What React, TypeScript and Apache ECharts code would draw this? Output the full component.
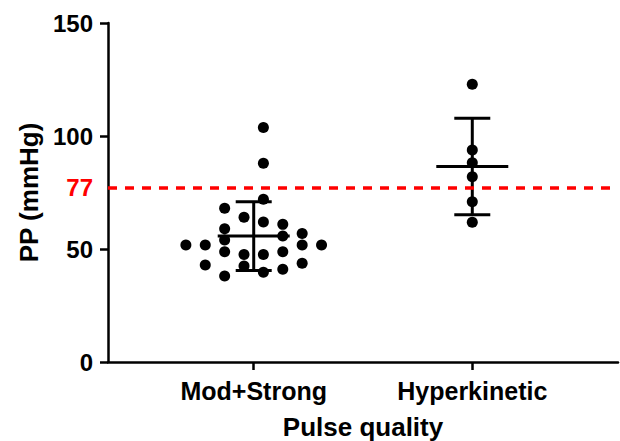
import React, { useEffect, useRef } from "react";
import * as echarts from "echarts";

const categories = ["Mod+Strong", "Hyperkinetic"];
const categoryPositions = [2, 5];
const yTicks = [0, 50, 100, 150];
const threshold = 77;

// Mod+Strong group: PP values (mmHg) and jitter column (in dot widths from center)
const modStrongPP = [103.8, 87.9, 72.0, 68.0, 64.0, 61.9, 60.9, 59.0, 56.9, 55.8, 54.0, 51.8, 51.8, 51.8, 51.8, 48.8, 47.6, 47.6, 48.8, 42.9, 42.5, 43.7, 41.0, 39.7, 38.1];
const modStrongColumn = [0.5, 0.5, 0.5, -1.5, -0.5, 0.5, 1.5, -1.5, 2.5, 1.5, -1.5, -3.5, -2.5, 2.5, 3.5, -1.5, -0.5, 0.5, 1.5, -2.5, -0.5, 2.5, 1.5, 0.5, -1.5];

// Hyperkinetic group
const hyperPP = [122.9, 93.8, 88.2, 82.0, 70.9, 61.8];
const hyperColumn = [0, 0, 0, 0, 0, 0];

// Mean ± SD per group
const groupMean = [55.7, 86.5];
const groupSD = [15.2, 21.3];

const FONT = "Arial, 'Liberation Sans', sans-serif";
const COLUMN_STEP = 0.266;

export default function App() {
  const ref = useRef<HTMLDivElement>(null);
  useEffect(() => {
    document.body.style.margin = "0";
    const chart = echarts.init(ref.current!, null, { renderer: "svg" });
    const dots: number[][] = [];
    modStrongPP.forEach((v, i) => dots.push([categoryPositions[0] + modStrongColumn[i] * COLUMN_STEP, v]));
    hyperPP.forEach((v, i) => dots.push([categoryPositions[1] + hyperColumn[i] * COLUMN_STEP, v]));
    const bars = groupMean.map((m, i) => [categoryPositions[i], m, groupSD[i]]);

    chart.setOption({
      animation: false,
      grid: { left: 108, right: 2, top: 23, bottom: 79, outerBoundsMode: "none", containLabel: false },
      xAxis: {
        type: "value",
        min: 0,
        max: 7,
        splitLine: { show: false },
        axisLine: { show: true, onZero: false, lineStyle: { color: "#000", width: 2.5 } },
        axisTick: { show: true, customValues: categoryPositions, length: 8, lineStyle: { color: "#000", width: 2.5 } },
        axisLabel: {
          customValues: categoryPositions,
          formatter: (v: number) => categories[categoryPositions.indexOf(v)] ?? "",
          color: "#000",
          fontWeight: "bold",
          fontFamily: FONT,
          fontSize: 25,
          margin: 16,
        },
        name: "Pulse quality",
        nameLocation: "middle",
        nameGap: 52,
        nameTextStyle: { color: "#000", fontWeight: "bold", fontFamily: FONT, fontSize: 26 },
      },
      yAxis: {
        type: "value",
        min: 0,
        max: 150,
        interval: 50,
        splitLine: { show: false },
        axisLine: { show: true, lineStyle: { color: "#000", width: 2.5 } },
        axisTick: { show: true, customValues: yTicks, length: 8, lineStyle: { color: "#000", width: 2.5 } },
        axisLabel: {
          customValues: [...yTicks, threshold],
          formatter: (v: number) => (v === threshold ? "{r|" + v + "}" : "{b|" + v + "}"),
          margin: 15,
          rich: {
            b: { color: "#000", fontWeight: "bold", fontFamily: FONT, fontSize: 24 },
            r: { color: "#ff0000", fontWeight: "bold", fontFamily: FONT, fontSize: 24 },
          },
        },
        name: "PP (mmHg)",
        nameLocation: "middle",
        nameGap: 64,
        nameTextStyle: { color: "#000", fontWeight: "bold", fontFamily: FONT, fontSize: 26 },
      },
      series: [
        {
          type: "scatter",
          data: dots,
          symbol: "circle",
          symbolSize: 11,
          itemStyle: { color: "#000", opacity: 1 },
          markLine: {
            silent: true,
            symbol: ["none", "none"],
            label: { show: false },
            lineStyle: { color: "#ff0000", type: [9, 8], width: 3.5, opacity: 1 },
            data: [{ yAxis: threshold }],
          },
        },
        {
          type: "custom",
          data: bars,
          encode: { x: 0, y: 1 },
          z: 3,
          renderItem: (params: any, api: any) => {
            const x = api.value(0);
            const m = api.value(1);
            const s = api.value(2);
            const c = api.coord([x, m]);
            const t = api.coord([x, m + s]);
            const b = api.coord([x, m - s]);
            const st = { stroke: "#000", lineWidth: 3 };
            return {
              type: "group",
              children: [
                { type: "line", shape: { x1: c[0] - 36, y1: c[1], x2: c[0] + 36, y2: c[1] }, style: st },
                { type: "line", shape: { x1: c[0], y1: t[1], x2: c[0], y2: b[1] }, style: st },
                { type: "line", shape: { x1: c[0] - 18, y1: t[1], x2: c[0] + 18, y2: t[1] }, style: st },
                { type: "line", shape: { x1: c[0] - 18, y1: b[1], x2: c[0] + 18, y2: b[1] }, style: st },
              ],
            };
          },
        },
      ],
    });
    return () => chart.dispose();
  }, []);
  return <div ref={ref} style={{ width: 620, height: 441, position: "absolute", left: 0, top: 0 }} />;
}
